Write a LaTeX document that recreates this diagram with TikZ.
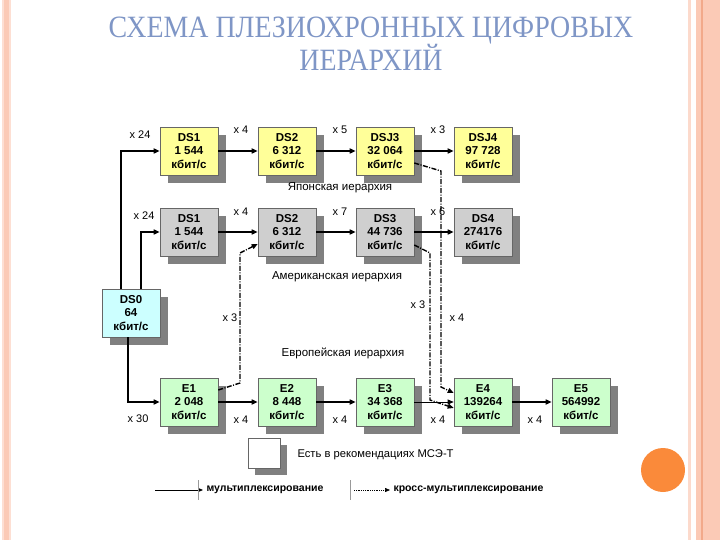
\documentclass[tikz,border=0pt]{standalone}
\usepackage{fontspec}
\setmainfont{Liberation Serif}
\setsansfont{Liberation Sans}
\usetikzlibrary{arrows.meta,shadows}
\definecolor{titleblue}{HTML}{7F96C6}
\definecolor{salmon}{HTML}{FBCAB6}
\definecolor{salmondark}{HTML}{F2A98A}
\definecolor{yel}{HTML}{FFFF99}
\definecolor{gry}{HTML}{CFCFCF}
\definecolor{cyn}{HTML}{CCFFFF}
\definecolor{grn}{HTML}{CCFFCC}
\definecolor{orng}{HTML}{FA8A3A}
\tikzset{
  bx/.style={draw=black!60, line width=0.6pt, minimum width=58pt, minimum height=48pt,
    inner sep=0pt, align=center, font=\sffamily\bfseries\fontsize{11.5}{13.5}\selectfont,
    drop shadow={shadow xshift=8pt, shadow yshift=-8pt, fill=black!50, opacity=1}},
  yb/.style={bx, fill=yel},
  gb/.style={bx, fill=gry},
  cb/.style={bx, fill=cyn},
  eb/.style={bx, fill=grn},
  mux/.style={line width=1.5pt, -{Triangle[length=6pt,width=5pt]}},
  xmux/.style={line width=1.4pt, dash pattern=on 5pt off 1.5pt on 1pt off 1.5pt, -{Triangle[length=6pt,width=5pt]}},
  lbl/.style={font=\sffamily\fontsize{11}{12}\selectfont, inner sep=1pt},
  sec/.style={font=\sffamily\fontsize{11.5}{12}\selectfont, inner sep=1pt}
}
\begin{document}
\begin{tikzpicture}[x=1pt,y=-1pt]
\useasboundingbox (0,0) rectangle (720,540);
% decorations
\fill[salmon!60] (2,0) rectangle (11,540);
\fill[salmon] (4,0) rectangle (9,540);
\fill[salmon!70] (688,0) rectangle (691,540);
\fill[salmon] (696,0) rectangle (720,540);
\fill[salmondark] (701,0) rectangle (703,540);
\fill[orng] (663,470) circle (22);
% title
\node[text=titleblue, font=\fontsize{31}{33}\selectfont, align=center] (title) at (371,44)
  {\scalebox{0.9}[1]{СХЕМА ПЛЕЗИОХРОННЫХ ЦИФРОВЫХ}\\\scalebox{0.9}[1]{ИЕРАРХИЙ}};
% boxes
\node[yb] (j1) at (189,151) {DS1\\1 544\\кбит/с};
\node[yb] (j2) at (287,151) {DS2\\6 312\\кбит/с};
\node[yb] (j3) at (385,151) {DSJ3\\32 064\\кбит/с};
\node[yb] (j4) at (483,151) {DSJ4\\97 728\\кбит/с};
\node[gb] (a1) at (189,232) {DS1\\1 544\\кбит/с};
\node[gb] (a2) at (287,232) {DS2\\6 312\\кбит/с};
\node[gb] (a3) at (385,232) {DS3\\44 736\\кбит/с};
\node[gb] (a4) at (483,232) {DS4\\274176\\кбит/с};
\node[cb] (ds0) at (131,313) {DS0\\64\\кбит/с};
\node[eb] (e1) at (189,402) {E1\\2 048\\кбит/с};
\node[eb] (e2) at (287,402) {E2\\8 448\\кбит/с};
\node[eb] (e3) at (385,402) {E3\\34 368\\кбит/с};
\node[eb] (e4) at (483,402) {E4\\139264\\кбит/с};
\node[eb] (e5) at (581,402) {E5\\564992\\кбит/с};
% section labels
\node[sec] (sj) at (340,188) {Японская иерархия};
\node[sec] (sa) at (337,277) {Американская иерархия};
\node[sec] (se) at (343,353) {Европейская иерархия};
% DS0 connectors
\draw[mux] (ds0.north west -| 121,0) -- (121,151) -- (j1.west);
\draw[mux] (ds0.north west -| 141,0) -- (141,232) -- (a1.west);
\draw[mux] (ds0.south west -| 128,0) -- (128,402) -- (e1.west);
\node[lbl] (l1) at (140,135) {x 24};
\node[lbl] (l2) at (144,216) {x 24};
\node[lbl] (l3) at (138,419) {x 30};
% rows
\draw[mux] (j1) -- (j2); \draw[mux] (j2) -- (j3); \draw[mux] (j3) -- (j4);
\draw[mux] (a1) -- (a2); \draw[mux] (a2) -- (a3); \draw[mux] (a3) -- (a4);
\draw[mux] (e1) -- (e2); \draw[mux] (e2) -- (e3); \draw[line width=0.8pt, -{Triangle[length=6pt,width=5pt]}] (e3) -- (e4); \draw[mux] (e4) -- (e5);
\node[lbl] (k1) at (241,130) {x 4};
\node[lbl] (k2) at (340,130) {x 5};
\node[lbl] (k3) at (438,130) {x 3};
\node[lbl] (k4) at (241,212) {x 4};
\node[lbl] (k5) at (340,212) {x 7};
\node[lbl] (k6) at (438,212) {x 6};
\node[lbl] (k7) at (241,420) {x 4};
\node[lbl] (k8) at (340,420) {x 4};
\node[lbl] (k9) at (438,420) {x 4};
\node[lbl] (k10) at (535,420) {x 4};
% cross multiplexing
\draw[xmux] (e1.east |- 0,390) -- (240,383) -- (240,253) -- (a2.west |- 0,244);
\draw[xmux] (j3.east |- 0,163) -- (441,171) -- (441,387) -- (e4.west |- 0,393);
\draw[xmux] (a3.east |- 0,245) -- (430,253) -- (430,400) -- (e4.west |- 0,408);
\node[lbl] (c1) at (230,318) {x 3};
\node[lbl] (c2) at (418,305) {x 3};
\node[lbl] (c3) at (457,318) {x 4};
% legend
\node[draw=black!60, fill=white, minimum width=32pt, minimum height=30pt, inner sep=0pt,
  drop shadow={shadow xshift=7pt, shadow yshift=-7pt, fill=black!50, opacity=1}] (leg) at (264,453) {};
\node[anchor=west, font=\sffamily\fontsize{11.2}{12}\selectfont] (legt) at (294,455) {Есть в рекомендациях МСЭ-Т};
\coordinate (m1) at (155,490);
\node[anchor=west, font=\sffamily\bfseries\fontsize{10.5}{12}\selectfont] (mt) at (203,490) {мультиплексирование};
\draw[line width=0.8pt, -{Triangle[length=5pt,width=4pt]}] (m1) -- (mt.west);
\draw[black!40, line width=0.5pt] (198,480) -- (198,500);
\draw[black!40, line width=0.5pt] (350,480) -- (350,500);
\coordinate (x1) at (354,490);
\node[anchor=west, font=\sffamily\bfseries\fontsize{10.5}{12}\selectfont] (xt) at (390,490) {кросс-мультиплексирование};
\draw[line width=0.6pt, dash pattern=on 1pt off 0.8pt, -{Triangle[length=5pt,width=4pt]}] (x1) -- (xt.west);
\end{tikzpicture}
\end{document}
